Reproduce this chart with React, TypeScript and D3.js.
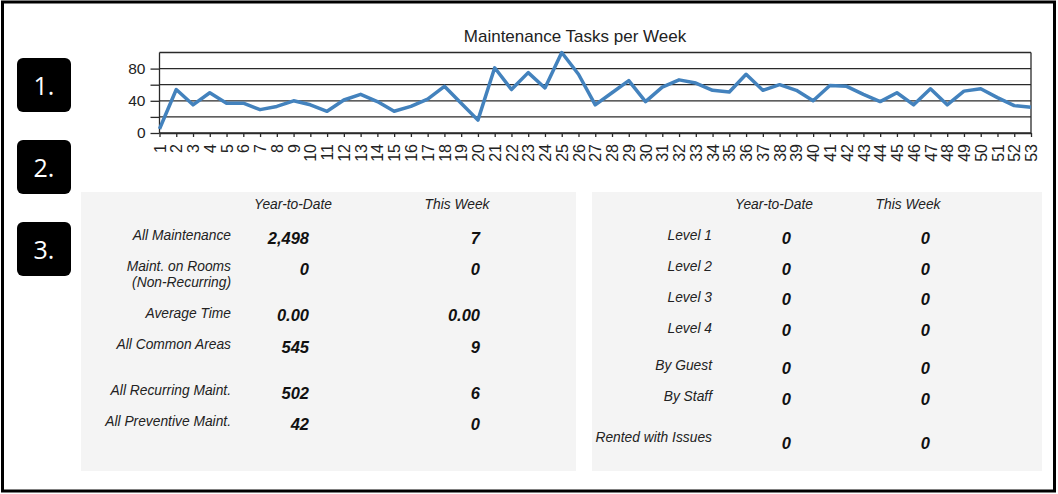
import React, { useEffect, useRef } from 'react';
import * as d3 from 'd3';

// weekly task counts
const weeks = d3.range(1, 54).map(String);
const tasks = [
  5, 54, 35, 50, 37, 37, 29, 33, 40, 35, 27, 41, 48, 39, 27, 33, 42, 58, 37, 16,
  81, 54, 75, 56, 100, 73, 35, 50, 65, 39, 57, 66, 62, 53, 51, 73, 53, 60, 53, 40,
  59, 58, 48, 39, 50, 35, 55, 35, 52, 55, 44, 34, 32,
];
const yTickLabels = [0, 40, 80];

const leftLabels = ['All Maintenance', 'Maint. on Rooms\n(Non-Recurring)', 'Average Time', 'All Common Areas', 'All Recurring Maint.', 'All Preventive Maint.'];
const leftYtd = [2498, 0, 0, 545, 502, 42];
const leftWeek = [7, 0, 0, 9, 6, 0];
const leftFormats = [',', ',', '.2f', ',', ',', ','];

const rightLabels = ['Level 1', 'Level 2', 'Level 3', 'Level 4', 'By Guest', 'By Staff', 'Rented with Issues'];
const rightYtd = [0, 0, 0, 0, 0, 0, 0];
const rightWeek = [0, 0, 0, 0, 0, 0, 0];

const columnHeaders = ['Year-to-Date', 'This Week'];
const stepLabels = ['1.', '2.', '3.'];

const FONT = '"Liberation Sans", Arial, sans-serif';

const App = () => {
  const svgRef = useRef<SVGSVGElement>(null);

  useEffect(() => {
    const svg = d3.select(svgRef.current);
    svg.selectAll('*').remove();

    // outer frame
    svg.append('rect')
      .attr('x', 2.5).attr('y', 2)
      .attr('width', 1052).attr('height', 489)
      .attr('fill', 'white')
      .attr('stroke', 'black').attr('stroke-width', 3);

    // numbered boxes
    stepLabels.forEach((s, i) => {
      const top = 58 + i * 82;
      svg.append('rect')
        .attr('x', 17).attr('y', top)
        .attr('width', 54).attr('height', 54)
        .attr('rx', 6)
        .attr('fill', 'black');
      svg.append('text')
        .attr('x', 44).attr('y', top + 37)
        .attr('text-anchor', 'middle')
        .attr('fill', 'white')
        .attr('font-family', '"Open Sans", "Noto Sans", sans-serif')
        .attr('font-size', '25px')
        .text(s);
    });

    // ---- line chart ----
    const left = 159.5;
    const right = 1031;
    const top = 52.5;
    const bottom = 133;

    const x = d3.scalePoint<string>().domain(weeks).range([left, right]);
    const y = d3.scaleLinear().domain([0, 100]).range([bottom, top]);

    svg.append('text')
      .attr('x', 575).attr('y', 42)
      .attr('text-anchor', 'middle')
      .attr('font-family', FONT)
      .attr('font-size', '17px')
      .attr('fill', '#222')
      .text('Maintenance Tasks per Week');

    const g = svg.append('g');

    // gridlines
    g.selectAll('line.grid')
      .data(y.ticks(5))
      .enter()
      .append('line')
      .attr('class', 'grid')
      .attr('x1', left).attr('x2', right)
      .attr('y1', (d) => y(d)).attr('y2', (d) => y(d))
      .attr('stroke', '#2a2a2a').attr('stroke-width', 1.3);

    // right frame
    g.append('line')
      .attr('x1', right).attr('x2', right)
      .attr('y1', top).attr('y2', bottom)
      .attr('stroke', '#2a2a2a').attr('stroke-width', 1.3);

    // y-axis
    const yAxis = d3.axisLeft(y)
      .tickValues([0, 20, 40, 60, 80])
      .tickSize(9)
      .tickSizeOuter(0)
      .tickFormat((d) => (yTickLabels.includes(+d) ? String(d) : ''));
    const ya = g.append('g')
      .attr('transform', `translate(${left},0)`)
      .call(yAxis);
    ya.select('.domain').attr('stroke', '#2a2a2a').attr('stroke-width', 1.3).attr('d', `M0,${bottom}V${top}`);
    ya.selectAll('line').attr('stroke', '#2a2a2a').attr('stroke-width', 1.3);
    ya.selectAll('text')
      .attr('font-family', FONT)
      .attr('font-size', '15.5px')
      .attr('fill', '#222')
      .attr('x', -14);

    // x-axis
    const xAxis = d3.axisBottom(x).tickSize(4).tickSizeOuter(0);
    const xa = g.append('g')
      .attr('transform', `translate(0,${bottom})`)
      .call(xAxis);
    xa.select('.domain').attr('stroke', '#2a2a2a').attr('stroke-width', 1.3);
    xa.selectAll('line').attr('stroke', '#2a2a2a').attr('stroke-width', 1.3);
    xa.selectAll('text')
      .attr('font-family', FONT)
      .attr('font-size', '16px')
      .attr('fill', '#222')
      .attr('transform', 'rotate(-90)')
      .attr('text-anchor', 'end')
      .attr('x', -11)
      .attr('y', 0)
      .attr('dy', '0.35em');

    const line = d3.line<number>()
      .x((_, i) => x(weeks[i]) as number)
      .y((d) => y(d));
    g.append('path')
      .datum(tasks)
      .attr('d', line)
      .attr('fill', 'none')
      .attr('stroke', '#4382bd')
      .attr('stroke-width', 3.5)
      .attr('stroke-linejoin', 'round');

    // ---- tables ----
    const drawTable = (
      panel: { x: number; w: number },
      labels: string[],
      ytd: number[],
      week: number[],
      formats: string[],
      cols: { label: number; ytd: number; week: number; hYtd: number; hWeek: number },
      rowY: number[],
      valueY: number[],
    ) => {
      const t = svg.append('g');
      t.append('rect')
        .attr('x', panel.x).attr('y', 192)
        .attr('width', panel.w).attr('height', 279)
        .attr('fill', '#f4f4f4');

      [cols.hYtd, cols.hWeek].forEach((cx, i) => {
        t.append('text')
          .attr('x', cx).attr('y', 209)
          .attr('text-anchor', 'middle')
          .attr('font-family', FONT)
          .attr('font-style', 'italic')
          .attr('font-size', '13.8px')
          .attr('fill', '#222')
          .text(columnHeaders[i]);
      });

      labels.forEach((lab, i) => {
        const txt = t.append('text')
          .attr('x', cols.label).attr('y', rowY[i])
          .attr('text-anchor', 'end')
          .attr('font-family', FONT)
          .attr('font-style', 'italic')
          .attr('font-size', '13.8px')
          .attr('fill', '#222');
        lab.split('\n').forEach((part, j) => {
          txt.append('tspan')
            .attr('x', cols.label)
            .attr('dy', j === 0 ? 0 : 15.5)
            .text(part);
        });

        const fmt = d3.format(formats[i]);
        [
          [cols.ytd, ytd[i]],
          [cols.week, week[i]],
        ].forEach(([cx, v]) => {
          t.append('text')
            .attr('x', cx).attr('y', valueY[i])
            .attr('text-anchor', 'end')
            .attr('font-family', FONT)
            .attr('font-style', 'italic')
            .attr('font-weight', 'bold')
            .attr('font-size', '16.5px')
            .attr('fill', '#111')
            .text(fmt(v));
        });
      });
    };

    drawTable(
      { x: 81, w: 495 },
      leftLabels, leftYtd, leftWeek, leftFormats,
      { label: 231, ytd: 309, week: 480, hYtd: 293, hWeek: 457 },
      [240, 271, 318, 349, 395, 426],
      [243.5, 274.5, 321, 352.5, 398.5, 430],
    );

    drawTable(
      { x: 592, w: 450 },
      rightLabels, rightYtd, rightWeek, rightLabels.map(() => ','),
      { label: 712, ytd: 791, week: 930, hYtd: 774, hWeek: 908 },
      [240, 271, 302, 333, 370, 401, 442],
      [243.5, 274.5, 305, 336, 373.5, 404.5, 449],
    );
  }, []);

  return (
    <div style={{ position: 'absolute', left: 0, top: 0 }}>
      <svg ref={svgRef} width={1058} height={494} style={{ display: 'block' }}></svg>
    </div>
  );
};

export default App;
